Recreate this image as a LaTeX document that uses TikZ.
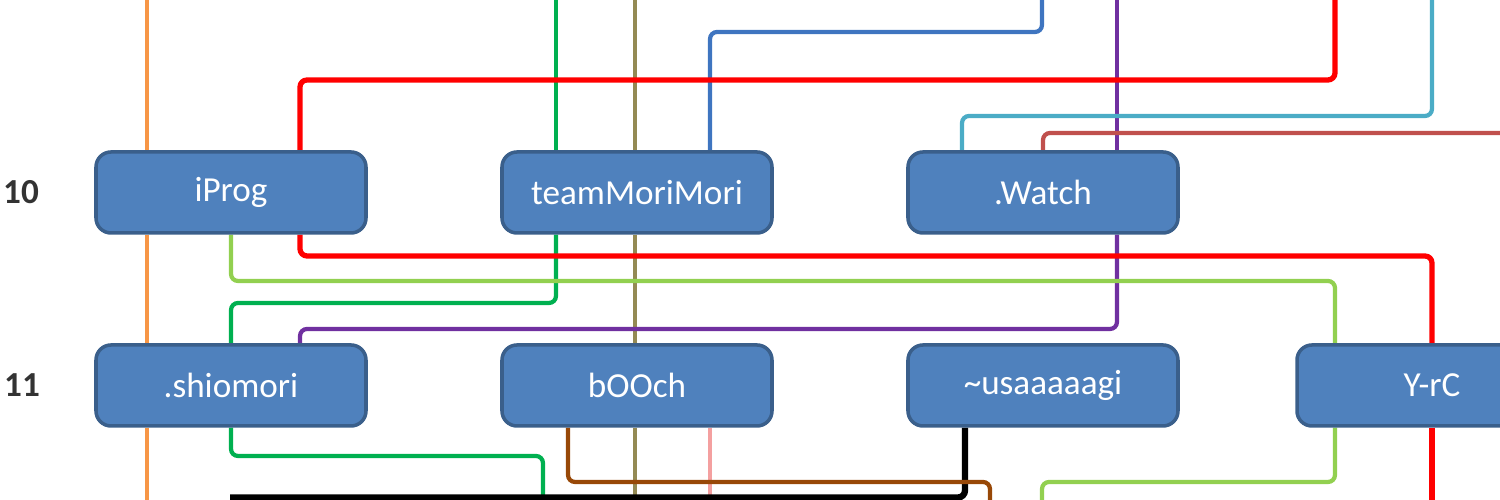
\documentclass[tikz,border=0pt]{standalone}
\usepackage{fontspec}
\setmainfont{Carlito}
\usetikzlibrary{backgrounds}
\definecolor{boxfill}{HTML}{4F81BD}
\definecolor{boxedge}{HTML}{3A5F8B}
\definecolor{corange}{HTML}{F79646}
\definecolor{cred}{HTML}{FF0000}
\definecolor{cyg}{HTML}{92D050}
\definecolor{cgreen}{HTML}{00B050}
\definecolor{colive}{HTML}{948A54}
\definecolor{cblue}{HTML}{3F75C0}
\definecolor{cpurple}{HTML}{7030A0}
\definecolor{ccyan}{HTML}{4BACC6}
\definecolor{cdred}{HTML}{C0504D}
\definecolor{cbrown}{HTML}{984807}
\definecolor{cpink}{HTML}{F4A0A0}
\definecolor{clabel}{HTML}{333333}
\tikzset{
  team/.style={draw=boxedge, line width=1pt, fill=boxfill, rounded corners=0.15cm,
    minimum width=2.7cm, minimum height=0.81cm, inner sep=0pt, text=white,
    font=\fontsize{10pt}{12pt}\selectfont},
  rowlabel/.style={text=clabel, font=\bfseries\fontsize{10pt}{12pt}\selectfont, inner sep=0pt},
  wire/.style={line width=1.2pt, rounded corners=2pt},
}
\begin{document}
\begin{tikzpicture}
\useasboundingbox (0,0) rectangle (15,5);
\clip (0,0) rectangle (15,5);
% nodes
\node[team] (iProg) at (2.31,3.075) {iProg};
\node[team] (tMM) at (6.37,3.075) {teamMoriMori};
\node[team] (watch) at (10.43,3.075) {.Watch};
\node[team] (shio) at (2.31,1.145) {.shiomori};
\node[team] (booch) at (6.37,1.145) {bOOch};
\node[team] (usa) at (10.43,1.145) {\textasciitilde usaaaaagi};
\node[team] (yrc) at (14.32,1.145) {Y-rC};
% row labels
\node[rowlabel] (l10) at (0.21,3.08) {10};
\node[rowlabel] (l11) at (0.22,1.15) {11};
% free ends
\coordinate (oTop) at (1.47,5);
\coordinate (oBot) at (1.47,0);
\coordinate (rTop) at (13.35,5);
\coordinate (rBot) at (14.32,0);
\coordinate (ygBot) at (10.42,0);
\coordinate (gTop) at (5.56,5);
\coordinate (gBot) at (5.43,0);
\coordinate (olTop) at (6.35,5);
\coordinate (olBot) at (6.35,0);
\coordinate (blTop) at (10.42,5);
\coordinate (puTop) at (11.17,5);
\coordinate (cyTop) at (14.32,5);
\coordinate (drEnd) at (15.1,3.67);
\coordinate (brBot) at (9.90,0);
\coordinate (pkBot) at (7.10,0);
\coordinate (bkEnd) at (2.30,0.025);
\begin{scope}[on background layer]
% orange
\draw[wire, corange] (oTop) -- (iProg.north -| oTop);
\draw[wire, corange] (iProg.south -| oTop) -- (shio.north -| oTop);
\draw[wire, corange] (shio.south -| oTop) -- (oBot);
% green
\draw[wire, cgreen] (gTop) -- (tMM.north -| gTop);
\draw[wire, cgreen] (tMM.south -| gTop) -- (5.56,1.97) -- (2.31,1.97) -- (shio.north);
\draw[wire, cgreen] (shio.south) -- (2.31,0.44) -- (5.43,0.44) -- (gBot);
% olive
\draw[wire, colive] (olTop) -- (tMM.north -| olTop);
\draw[wire, colive] (tMM.south -| olTop) -- (booch.north -| olTop);
\draw[wire, colive] (booch.south -| olBot) -- (olBot);
% blue
\draw[wire, cblue] (tMM.north -| 7.10,0) -- (7.10,4.68) -- (10.42,4.68) -- (blTop);
% pink
\draw[line width=1pt, cpink] (booch.south -| pkBot) -- (pkBot);
% purple
\draw[wire, cpurple] (puTop) -- (watch.north -| puTop);
\draw[wire, cpurple] (watch.south -| puTop) -- (11.17,1.71) -- (3.00,1.71) -- (shio.north -| 3.00,0);
% cyan
\draw[wire, ccyan] (watch.north -| 9.62,0) -- (9.62,3.84) -- (14.32,3.84) -- (cyTop);
% dark red
\draw[wire, cdred] (watch.north) -- (10.43,3.67) -- (drEnd);
% yellow-green
\draw[wire, cyg] (iProg.south) -- (2.31,2.19) -- (13.35,2.19) -- (yrc.north -| 13.35,0);
\draw[wire, cyg] (yrc.south -| 13.35,0) -- (13.35,0.18) -- (10.42,0.18) -- (ygBot);
% red
\draw[wire, cred, line width=1.5pt] (iProg.north -| 3.00,0) -- (3.00,4.20) -- (13.35,4.20) -- (rTop);
\draw[wire, cred, line width=1.5pt] (iProg.south -| 3.00,0) -- (3.00,2.44) -- (14.32,2.44) -- (yrc.north);
\draw[wire, cred, line width=1.5pt] (yrc.south) -- (rBot);
% black
\draw[wire, black, line width=1.8pt] (usa.south -| 9.65,0) -- (9.65,0.025) -- (bkEnd);
% brown
\draw[wire, cbrown] (booch.south -| 5.68,0) -- (5.68,0.18) -- (9.90,0.18) -- (brBot);
\end{scope}
\end{tikzpicture}
\end{document}
